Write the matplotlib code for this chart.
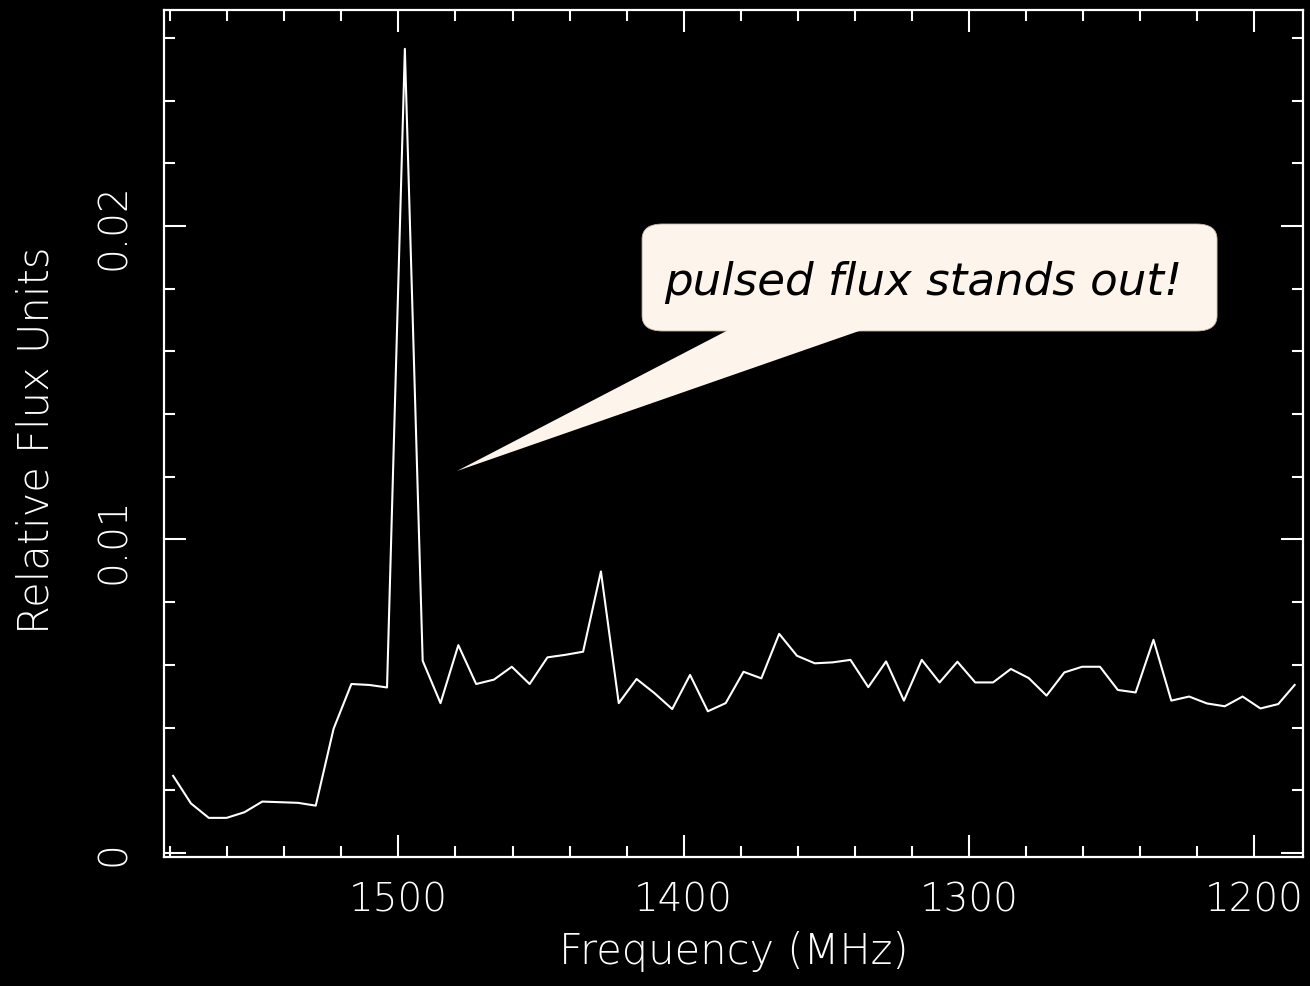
"""
Pulsed flux spectrum: relative flux per 6.25 MHz channel across the L-band.
"""

import matplotlib
matplotlib.use("Agg")
import matplotlib.pyplot as plt
from matplotlib.patches import FancyBboxPatch, Polygon
from matplotlib.ticker import MultipleLocator, FuncFormatter

# -------------------- Data --------------------
# channel centre frequencies (MHz)
freq = [1579.00, 1572.75, 1566.50, 1560.25, 1554.00, 1547.75, 1541.50, 1535.25,
        1529.00, 1522.75, 1516.50, 1510.25, 1504.00, 1497.75, 1491.50, 1485.25,
        1479.00, 1472.75, 1466.50, 1460.25, 1454.00, 1447.75, 1441.50, 1435.25,
        1429.00, 1422.75, 1416.50, 1410.25, 1404.00, 1397.75, 1391.50, 1385.25,
        1379.00, 1372.75, 1366.50, 1360.25, 1354.00, 1347.75, 1341.50, 1335.25,
        1329.00, 1322.75, 1316.50, 1310.25, 1304.00, 1297.75, 1291.50, 1285.25,
        1279.00, 1272.75, 1266.50, 1260.25, 1254.00, 1247.75, 1241.50, 1235.25,
        1229.00, 1222.75, 1216.50, 1210.25, 1204.00, 1197.75, 1191.50, 1185.75]

# relative flux
flux = [0.00246, 0.00158, 0.00112, 0.00112, 0.00130, 0.00164, 0.00162, 0.00160,
        0.00151, 0.00396, 0.00539, 0.00536, 0.00528, 0.02565, 0.00613, 0.00478,
        0.00663, 0.00539, 0.00553, 0.00594, 0.00539, 0.00624, 0.00632, 0.00642,
        0.00898, 0.00478, 0.00555, 0.00510, 0.00459, 0.00568, 0.00452, 0.00478,
        0.00578, 0.00557, 0.00699, 0.00629, 0.00605, 0.00608, 0.00616, 0.00529,
        0.00611, 0.00486, 0.00616, 0.00544, 0.00610, 0.00544, 0.00544, 0.00587,
        0.00558, 0.00502, 0.00576, 0.00594, 0.00594, 0.00520, 0.00512, 0.00680,
        0.00486, 0.00499, 0.00477, 0.00468, 0.00499, 0.00461, 0.00475, 0.00536]

note = "pulsed flux stands out!"

# -------------------- Plot --------------------
plt.rcParams["font.family"] = ["DejaVu Sans"]
plt.rcParams["font.weight"] = "light"
plt.rcParams["axes.labelweight"] = "light"

fig = plt.figure(figsize=(13.1, 9.87), dpi=100, facecolor="black")
ax = fig.add_axes([0.1252, 0.1307, 0.8695, 0.8582])
ax.set_facecolor("black")

ax.plot(freq, flux, color="white", lw=1.5)

ax.set_xlim(1582.2, 1182.8)
ax.set_ylim(-0.000128, 0.02689)

ax.xaxis.set_major_locator(MultipleLocator(100))
ax.xaxis.set_minor_locator(MultipleLocator(20))
ax.yaxis.set_major_locator(MultipleLocator(0.01))
ax.yaxis.set_minor_locator(MultipleLocator(0.002))
ax.yaxis.set_major_formatter(FuncFormatter(lambda v, p: "0" if abs(v) < 1e-9 else f"{v:.2f}"))

ax.tick_params(which="both", direction="in", top=True, right=True,
               colors="white", width=1.5)
ax.tick_params(which="major", length=16)
ax.tick_params(which="minor", length=8)
ax.tick_params(axis="x", pad=17, labelsize=28)
ax.tick_params(axis="y", pad=22, labelsize=28, labelrotation=90)
plt.setp(ax.get_yticklabels(), va="center")

for s in ax.spines.values():
    s.set_color("white")
    s.set_linewidth(1.6)

ax.set_xlabel("Frequency (MHz)", color="white", fontsize=30, fontweight="light")
ax.xaxis.set_label_coords(0.5, -0.086)
ax.set_ylabel("Relative Flux Units", color="white", fontsize=30,
              fontweight="light", va="center")
ax.yaxis.set_label_coords(-0.112, 0.4935)

# -------------------- Callout --------------------
box = FancyBboxPatch((0.4197, 0.621), 0.5048, 0.1263, transform=ax.transAxes,
                     boxstyle="round,pad=0,rounding_size=0.018",
                     facecolor="#fdf5ec", edgecolor="#c8b8a8", lw=0.6, zorder=5)
ax.add_patch(box)
wedge = Polygon([(0.5066, 0.63), (0.6295, 0.63), (0.2572, 0.4557)],
                closed=True, transform=ax.transAxes,
                facecolor="#fdf5ec", edgecolor="none", zorder=6)
ax.add_patch(wedge)
ax.text(0.6664, 0.6800, note, transform=ax.transAxes, fontsize=32.5,
        style="italic", fontweight="normal", color="black",
        ha="center", va="center", zorder=7)

fig.savefig("out.png", dpi=100, facecolor="black")
